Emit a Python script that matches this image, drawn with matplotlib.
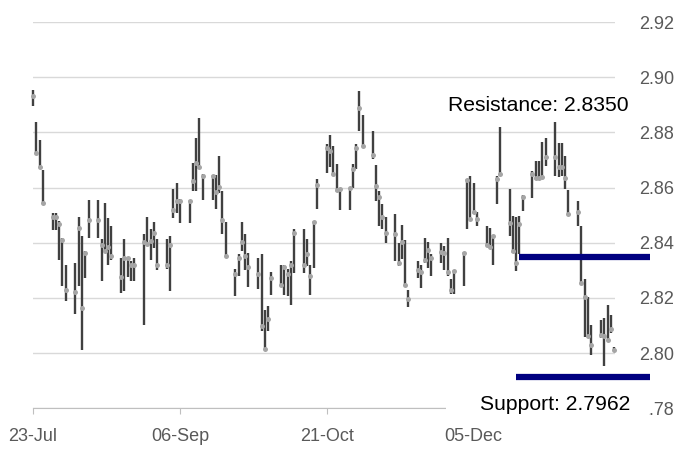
import numpy as np
import pandas as pd
import matplotlib
matplotlib.use('Agg')
import matplotlib.pyplot as plt
import matplotlib.dates as mdates
from matplotlib.patches import Rectangle

# trading days 23-Jul-2019 .. 17-Jan-2020
dates = pd.bdate_range('2019-07-23', '2020-01-17')

high = [2.8954, 2.8839, 2.8772, 2.8663, 2.8509, 2.8509, 2.8479, 2.8416, 2.8321,
        2.8327, 2.8495, 2.8424, 2.8370, 2.8554, 2.8554, 2.8412, 2.8545, 2.8488, 2.8461,
        2.8345, 2.8412, 2.8348, 2.8333, 2.8345, 2.8430, 2.8495, 2.8451, 2.8475, 2.8412,
        2.8412, 2.8424, 2.8594, 2.8618, 2.8558, 2.8555, 2.8688, 2.8778, 2.8851, 2.8648,
        2.8645, 2.8645, 2.8715, 2.8588, 2.8475, 2.8305, 2.8358, 2.8475, 2.8430, 2.8364,
        2.8345, 2.8360, 2.8155, 2.8172, 2.8293, 2.8321, 2.8319, 2.8305, 2.8333, 2.8448,
        2.8451, 2.8412, 2.8321, 2.8479, 2.8630, 2.8758, 2.8792, 2.8752, 2.8687, 2.8600,
        2.8600, 2.8687, 2.8758, 2.8949, 2.8864, 2.8806, 2.8681, 2.8588, 2.8539, 2.8495,
        2.8503, 2.8400, 2.8463, 2.8410, 2.8230, 2.8333, 2.8321, 2.8418, 2.8402, 2.8358,
        2.8398, 2.8388, 2.8418, 2.8269, 2.8301, 2.8366, 2.8630, 2.8642, 2.8618, 2.8512,
        2.8461, 2.8455, 2.8428, 2.8642, 2.8818, 2.8594, 2.8497, 2.8493, 2.8497, 2.8573,
        2.8661, 2.8697, 2.8697, 2.8764, 2.8779, 2.8836, 2.8760, 2.8760, 2.8715, 2.8590,
        2.8552, 2.8461, 2.8270, 2.8202, 2.8101, 2.8121, 2.8127, 2.8173, 2.8139, 2.8021]

low = [2.8897, 2.8721, 2.8675, 2.8545, 2.8446, 2.8446, 2.8336, 2.8245, 2.8188,
       2.8142, 2.8245, 2.8012, 2.8273, 2.8418, 2.8418, 2.8263, 2.8370, 2.8321, 2.8339,
       2.8218, 2.8224, 2.8275, 2.8261, 2.8263, 2.8103, 2.8388, 2.8336, 2.8382, 2.8303,
       2.8305, 2.8224, 2.8491, 2.8509, 2.8470, 2.8470, 2.8588, 2.8588, 2.8669, 2.8555,
       2.8555, 2.8521, 2.8582, 2.8430, 2.8352, 2.8206, 2.8279, 2.8370, 2.8303, 2.8240,
       2.8233, 2.8079, 2.8015, 2.8079, 2.8212, 2.8245, 2.8212, 2.8206, 2.8176, 2.8291,
       2.8291, 2.8315, 2.8212, 2.8309, 2.8524, 2.8651, 2.8675, 2.8646, 2.8585, 2.8518,
       2.8518, 2.8600, 2.8667, 2.8806, 2.8748, 2.8705, 2.8552, 2.8461, 2.8448, 2.8400,
       2.8333, 2.8315, 2.8342, 2.8248, 2.8167, 2.8273, 2.8236, 2.8327, 2.8309, 2.8279,
       2.8327, 2.8303, 2.8281, 2.8216, 2.8216, 2.8242, 2.8448, 2.8485, 2.8503, 2.8459,
       2.8388, 2.8382, 2.8321, 2.8542, 2.8642, 2.8424, 2.8364, 2.8297, 2.8358, 2.8515,
       2.8561, 2.8627, 2.8630, 2.8630, 2.8679, 2.8642, 2.8639, 2.8642, 2.8594, 2.8505,
       2.8461, 2.8255, 2.8057, 2.8061, 2.7994, 2.8055, 2.7955, 2.8048, 2.8073, 2.8008]

close = [2.8933, 2.8727, 2.8675, 2.8545, 2.8495, 2.8495, 2.8467, 2.8410, 2.8228,
         2.8222, 2.8455, 2.8164, 2.8364, 2.8481, 2.8481, 2.8390, 2.8370, 2.8384, 2.8352,
         2.8275, 2.8345, 2.8345, 2.8319, 2.8319, 2.8402, 2.8396, 2.8408, 2.8434, 2.8319,
         2.8319, 2.8390, 2.8519, 2.8552, 2.8552, 2.8552, 2.8622, 2.8688, 2.8673, 2.8642,
         2.8642, 2.8584, 2.8602, 2.8481, 2.8352, 2.8287, 2.8345, 2.8402, 2.8352, 2.8313,
         2.8287, 2.8097, 2.8015, 2.8125, 2.8273, 2.8248, 2.8313, 2.8288, 2.8321, 2.8436,
         2.8321, 2.8358, 2.8281, 2.8475, 2.8608, 2.8745, 2.8733, 2.8648, 2.8590, 2.8596,
         2.8598, 2.8667, 2.8745, 2.8888, 2.8752, 2.8719, 2.8604, 2.8564, 2.8493, 2.8436,
         2.8430, 2.8325, 2.8402, 2.8248, 2.8196, 2.8301, 2.8293, 2.8337, 2.8372, 2.8345,
         2.8366, 2.8364, 2.8293, 2.8227, 2.8299, 2.8364, 2.8628, 2.8487, 2.8512, 2.8487,
         2.8390, 2.8385, 2.8424, 2.8630, 2.8648, 2.8473, 2.8370, 2.8325, 2.8469, 2.8566,
         2.8648, 2.8636, 2.8636, 2.8639, 2.8712, 2.8709, 2.8675, 2.8675, 2.8636, 2.8505,
         2.8513, 2.8255, 2.8202, 2.8061, 2.8030, 2.8067, 2.8061, 2.8048, 2.8088, 2.8012]

resistance = 2.8350
support = 2.7962
support_drawn = 2.7915   # where the support bar sits in the picture
tick_dates = ['2019-07-23', '2019-09-06', '2019-10-21', '2019-12-05']
y_ticks = [2.78, 2.80, 2.82, 2.84, 2.86, 2.88, 2.90, 2.92]

fig = plt.figure(figsize=(6.78, 4.5), dpi=100)
ax = fig.add_axes([0.0487, 0.0927, 0.8584, 0.8584])

ax.vlines(dates, low, high, color='#404040', lw=1.7, zorder=3, clip_on=False)
ax.plot(dates, close, 'o', ms=3.6, color='#a5a5a5', mec='none', zorder=4, clip_on=False)

# support / resistance bars
ax.plot(pd.to_datetime(['2019-12-19', '2020-01-28']), [resistance, resistance],
        color='#000080', lw=4.5, solid_capstyle='butt', clip_on=False, zorder=5)
ax.plot(pd.to_datetime(['2019-12-18', '2020-01-28']), [support_drawn, support_drawn],
        color='#000080', lw=4.5, solid_capstyle='butt', clip_on=False, zorder=5)

ax.text(pd.Timestamp('2019-12-24 20:00'), 2.8897, 'Resistance: %.4f' % resistance,
        fontsize=15.2, family='Liberation Sans', ha='center', va='center',
        color='black', zorder=7, clip_on=False)

# white text box that hides the end of the axis and the "2" of 2.78
x0 = mdates.date2num(pd.Timestamp('2019-11-26 12:00'))
x1 = mdates.date2num(pd.Timestamp('2020-01-27 18:00'))
ax.add_patch(Rectangle((x0, 2.7739), x1 - x0, 0.0146, facecolor='white',
                       edgecolor='none', zorder=6, clip_on=False))
ax.text(pd.Timestamp('2019-12-29 23:00'), 2.7815, 'Support: %.4f' % support,
        fontsize=15.2, family='Liberation Sans', ha='center', va='center',
        color='black', zorder=7, clip_on=False)

ax.set_xlim(pd.Timestamp('2019-07-23'), pd.Timestamp('2020-01-17 07:00'))
ax.set_ylim(2.78, 2.92)

ax.set_xticks(pd.to_datetime(tick_dates))
ax.xaxis.set_major_formatter(mdates.DateFormatter('%d-%b'))
ax.set_yticks(y_ticks)
ax.set_yticklabels(['%.2f' % v for v in y_ticks])
ax.yaxis.tick_right()

ax.grid(axis='y', color='#d9d9d9', lw=1)
ax.set_axisbelow(True)
for s in ['left', 'right', 'top']:
    ax.spines[s].set_visible(False)
ax.spines['bottom'].set_color('#bfbfbf')
ax.tick_params(axis='x', length=4, color='#bfbfbf', pad=10, labelcolor='#595959')
ax.tick_params(axis='y', length=0, pad=17.5, labelcolor='#595959')
for lab in ax.get_xticklabels() + ax.get_yticklabels():
    lab.set_family('Liberation Sans')
    lab.set_fontsize(13)

fig.savefig('out.png', dpi=100)
